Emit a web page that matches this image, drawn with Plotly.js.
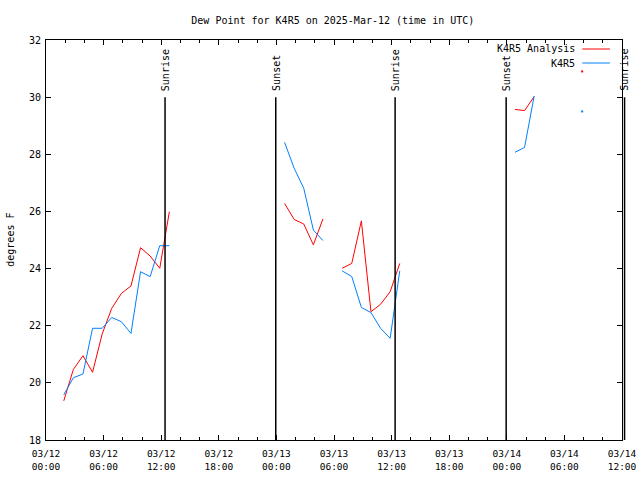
<!DOCTYPE html>
<html>
<head>
<meta charset="utf-8">
<script src="https://cdn.plot.ly/plotly-3.0.1.min.js"></script>
<style>html,body{margin:0;padding:0;background:#fff;}#chart{width:640px;height:480px;}</style>
</head>
<body>
<div id="chart"></div>
<script>
// Observation times (null values mark gaps in the record)
var obsTime = [
  "2025-03-12 01:51","2025-03-12 02:51","2025-03-12 03:51","2025-03-12 04:51",
  "2025-03-12 05:51","2025-03-12 06:51","2025-03-12 07:51","2025-03-12 08:51",
  "2025-03-12 09:51","2025-03-12 10:51","2025-03-12 11:51","2025-03-12 12:51",
  "2025-03-12 13:51",
  "2025-03-13 00:51","2025-03-13 01:51","2025-03-13 02:51","2025-03-13 03:51","2025-03-13 04:51",
  "2025-03-13 05:51",
  "2025-03-13 06:51","2025-03-13 07:51","2025-03-13 08:51","2025-03-13 09:51",
  "2025-03-13 10:51","2025-03-13 11:51","2025-03-13 12:51",
  "2025-03-13 13:51",
  "2025-03-14 00:51","2025-03-14 01:51","2025-03-14 02:51",
  "2025-03-14 03:51",
  "2025-03-14 07:51"
];
var analysisDew = [
  19.37,20.47,20.95,20.37,21.71,22.61,23.13,23.39,24.73,24.44,24.01,25.99,
  null,
  26.28,25.72,25.56,24.83,25.74,
  null,
  24.01,24.18,25.67,22.49,22.75,23.19,24.18,
  null,
  29.57,29.53,30.02,
  null,
  30.9
];
var stationDew = [
  19.58,20.18,20.31,21.91,21.91,22.29,22.14,21.73,23.89,23.72,24.80,24.80,
  null,
  28.42,27.51,26.81,25.35,24.98,
  null,
  23.92,23.72,22.64,22.46,21.91,21.56,23.92,
  null,
  28.07,28.24,30.04,
  null,
  29.5
];
var seriesNames = ["K4R5 Analysis", "K4R5"];
var seriesColors = ["#ff0000", "#0080ff"];
var sunEvents = ["Sunrise","Sunset","Sunrise","Sunset","Sunrise"];
var sunTimes = ["2025-03-12 12:24","2025-03-12 23:56","2025-03-13 12:22","2025-03-13 23:56","2025-03-14 12:16"];
var xStart = "2025-03-12 00:00", xEnd = "2025-03-14 12:00";
var yTicks = [18,20,22,24,26,28,30,32];

var FONT = "DejaVu Sans Mono, Liberation Mono, monospace";

function isolated(vals) {
  var xs = [], ys = [];
  for (var i = 0; i < vals.length; i++) {
    if (vals[i] === null) continue;
    var prev = i > 0 ? vals[i-1] : null, next = i < vals.length-1 ? vals[i+1] : null;
    if (prev === null && next === null) { xs.push(obsTime[i]); ys.push(vals[i]); }
  }
  return {x: xs, y: ys};
}

var all = [analysisDew, stationDew];
var traces = [];
all.forEach(function(v, k) {
  traces.push({x: obsTime, y: v, type: 'scatter', mode: 'lines', connectgaps: false,
    line: {color: seriesColors[k], width: 1}, name: seriesNames[k], showlegend: false, hoverinfo: 'skip'});
  var iso = isolated(v);
  traces.push({x: iso.x, y: iso.y, type: 'scatter', mode: 'markers',
    marker: {color: seriesColors[k], size: 2, symbol: 'square'}, showlegend: false, hoverinfo: 'skip'});
});

var t0 = new Date(xStart.replace(' ', 'T') + 'Z').getTime();
var t1 = new Date(xEnd.replace(' ', 'T') + 'Z').getTime();
function paperX(s) { return (new Date(s.replace(' ', 'T') + 'Z').getTime() - t0) / (t1 - t0); }

var shapes = [], annotations = [];
sunEvents.forEach(function(ev, i) {
  var px = paperX(sunTimes[i]);
  shapes.push({type: 'line', xref: 'paper', yref: 'y', x0: px, x1: px, y0: 30, y1: 18,
    line: {color: 'black', width: 1.5}});
  annotations.push({xref: 'paper', yref: 'y', x: px, y: 30, text: ev, textangle: -90,
    showarrow: false, xanchor: 'center', yanchor: 'bottom', yshift: 4,
    font: {family: FONT, size: 10, color: 'black'}});
});

// legend drawn like the original (text right, sample line left)
var legY = [0.9775, 0.9425];
seriesNames.forEach(function(n, k) {
  annotations.push({xref: 'paper', yref: 'paper', x: 0.922, y: legY[k], text: n, showarrow: false,
    xanchor: 'right', yanchor: 'middle', font: {family: FONT, size: 10, color: 'black'}});
  shapes.push({type: 'line', xref: 'paper', yref: 'paper', x0: 0.931, x1: 0.979, y0: legY[k], y1: legY[k],
    line: {color: seriesColors[k], width: 1}});
});

annotations.push({xref: 'paper', yref: 'paper', x: -0.063, y: 0.5, text: 'degrees F', textangle: -90,
  showarrow: false, xanchor: 'center', yanchor: 'middle', font: {family: FONT, size: 10, color: 'black'}});

var layout = {
  width: 640, height: 480,
  margin: {l: 46, r: 18, t: 40, b: 40, pad: 0},
  paper_bgcolor: 'white', plot_bgcolor: 'white',
  title: {text: 'Dew Point for K4R5 on 2025-Mar-12 (time in UTC)', x: 0.52, xanchor: 'center',
    y: 0.958, yanchor: 'middle', font: {family: FONT, size: 10, color: 'black'}},
  showlegend: false,
  xaxis: {type: 'date', range: [xStart, xEnd], dtick: 21600000, tick0: xStart,
    tickformat: '%m/%d<br>%H:%M', ticks: 'inside', ticklen: 5, tickcolor: 'black', tickwidth: 1,
    ticklabelstandoff: 5,
    showline: true, linecolor: 'black', linewidth: 1, mirror: 'ticks', showgrid: false, zeroline: false,
    tickfont: {family: FONT, size: 9.5, color: 'black'},
    minor: {dtick: 7200000, tick0: xStart, ticks: 'inside', ticklen: 3, tickcolor: 'black', showgrid: false}},
  yaxis: {range: [18, 32], tickvals: yTicks, ticktext: yTicks.map(String), ticks: 'inside', ticklen: 5,
    tickcolor: 'black', showline: true, linecolor: 'black', linewidth: 1, mirror: 'ticks',
    ticklabelstandoff: 2,
    showgrid: false, zeroline: false, tickfont: {family: FONT, size: 10, color: 'black'}},
  shapes: shapes,
  annotations: annotations
};

Plotly.newPlot('chart', traces, layout, {staticPlot: true, displayModeBar: false});
</script>
</body>
</html>
